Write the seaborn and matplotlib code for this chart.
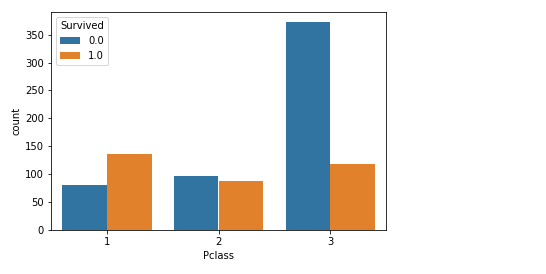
import matplotlib
matplotlib.use("Agg")
import matplotlib.pyplot as plt
import seaborn as sns
import pandas as pd

pclass = ["1", "2", "3"]
died = [80, 97, 372]
survived = [136, 87, 119]
hue_labels = ["0.0", "1.0"]

df = pd.DataFrame({
    "Pclass": pclass * 2,
    "count": died + survived,
    "Survived": [hue_labels[0]] * 3 + [hue_labels[1]] * 3,
})

plt.rcParams["font.family"] = ["DejaVu Sans"]
fig = plt.figure(figsize=(546 / 72, 274 / 72), dpi=72)
ax = fig.add_axes([51 / 546, 1 - 230 / 274, (386 - 51) / 546, (230 - 12) / 274])
sns.barplot(data=df, x="Pclass", y="count", hue="Survived", ax=ax,
            palette=sns.color_palette()[:2], saturation=0.75, linewidth=0)
ax.set_xlabel("Pclass")
ax.set_ylabel("count")
ax.legend(title="Survived", loc="upper left")
fig.savefig("out.png", dpi=72, facecolor="white")
